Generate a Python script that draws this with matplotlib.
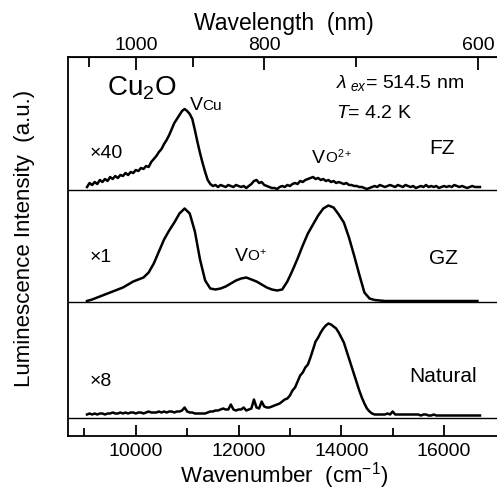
import numpy as np
import matplotlib
matplotlib.use("Agg")
import matplotlib.pyplot as plt

plt.rcParams['font.family'] = ['Liberation Sans', 'DejaVu Sans']
plt.rcParams['mathtext.fontset'] = 'custom'
plt.rcParams['mathtext.rm'] = 'Liberation Sans'
plt.rcParams['mathtext.it'] = 'Liberation Sans:italic'
plt.rcParams['mathtext.bf'] = 'Liberation Sans:bold'

# FZ sample (x40), wavenumber grid 9050..16700 step 50 cm-1
fz_wn = np.arange(9050, 16701, 50)
fz_int = [3, 7, 5, 8, 6, 10, 8, 11, 9, 13, 11, 14, 12, 15, 14, 17, 15, 18, 17, 20,
          19, 22, 21, 24, 23, 28, 31, 34, 38, 41, 46, 50, 55, 61, 67, 71, 75, 79, 81, 79,
          76, 71, 60, 48, 37, 27, 18, 10, 6, 4, 5, 3, 5, 4, 3, 5, 4, 3, 5, 4,
          3, 4, 2, 4, 6, 9, 10, 7, 8, 5, 4, 3, 2, 2, 1, 3, 4, 3, 5, 4,
          6, 7, 6, 9, 8, 10, 11, 12, 13, 11, 12, 10, 11, 9, 10, 8, 9, 7, 8, 7,
          6, 7, 5, 5, 4, 4, 3, 3, 2, 1, 2, 3, 4, 3, 5, 4, 3, 4, 5, 4,
          3, 5, 4, 3, 5, 4, 3, 4, 2, 3, 4, 3, 5, 3, 4, 3, 4, 2, 3, 4,
          3, 4, 3, 5, 4, 3, 4, 3, 2, 3, 4, 3, 3, 3]

# GZ sample (x1), step 100 cm-1
gz_wn = np.arange(9050, 16651, 100)
gz_int = [0.5, 2, 4, 6, 8, 10, 12, 14, 17, 20,
          22, 24, 29, 38, 50, 62, 71, 79, 88, 93,
          88, 70, 42, 21, 13, 12, 13, 15, 18, 21,
          23, 24, 22, 20, 17, 14, 12, 11, 12, 20,
          31, 43, 56, 68, 77, 86, 93, 96, 94, 87,
          79, 64, 46, 27, 9, 3, 1.5, 1, 0.5, 0.5,
          0.5, 0.5, 0.5, 0.5, 0.5, 0.5, 0.5, 0.5, 0.5, 0.5,
          0.5, 0.5, 0.5, 0.5, 0.5, 0.5, 0.5]

# Natural sample (x8), step 50 cm-1
nat_wn = np.arange(9050, 16701, 50)
nat_int = [3, 4, 3, 4, 3, 4, 4, 3, 4, 4, 5, 4, 4, 5, 4, 5, 4, 5, 5, 4,
           5, 5, 4, 5, 6, 5, 5, 5, 6, 5, 6, 5, 6, 6, 5, 6, 6, 7, 10, 6,
           5, 5, 4, 4, 4, 4, 4, 5, 6, 6, 7, 7, 8, 9, 8, 8, 13, 8, 7, 8,
           8, 10, 7, 8, 9, 18, 10, 9, 16, 11, 10, 10, 11, 12, 13, 14, 16, 18, 19, 22,
           27, 30, 36, 42, 45, 50, 53, 60, 68, 76, 80, 85, 89, 92, 94, 93, 91, 89, 85, 80,
           75, 67, 59, 51, 43, 35, 27, 20, 14, 9, 6, 4, 3, 3, 3, 3, 3, 4, 3, 6,
           3, 3, 3, 3, 3, 3, 3, 3, 3, 3, 2, 3, 3, 2, 2, 3, 2, 2, 2, 2,
           2, 2, 2, 2, 2, 2, 2, 2, 2, 2, 2, 2, 2, 2]

offsets = [246, 134.5, 18.5]   # FZ, GZ, Natural baselines

fig = plt.figure(figsize=(4.97, 4.94), dpi=100)
ax = fig.add_axes([68/497, 1-436/494, 432/497, 379/494])

for wn, inten, off in zip([fz_wn, gz_wn, nat_wn], [fz_int, gz_int, nat_int], offsets):
    ax.axhline(off, color='black', lw=1.0)
    ax.plot(wn, np.array(inten) + off, color='black', lw=1.8)

ax.set_xlim(8680, 17090)
ax.set_ylim(0, 379)
ax.set_yticks([])
ax.spines['right'].set_visible(False)
for s in ['left', 'top', 'bottom']:
    ax.spines[s].set_linewidth(1.3)

ax.set_xticks([10000, 12000, 14000, 16000])
ax.set_xticks([9000, 11000, 13000, 15000], minor=True)
ax.tick_params(axis='x', which='major', direction='in', length=8, width=1.3,
               labelsize=14, pad=5)
ax.tick_params(axis='x', which='minor', direction='in', length=6, width=1.3)
ax.set_xlabel(r'Wavenumber  (cm$^{-1}$)', fontsize=16, labelpad=0)

top = ax.secondary_xaxis('top', functions=(lambda x: 1e7 / x, lambda x: 1e7 / x))
top.set_xticks([1000, 800, 600])
top.set_xticks([1100, 900, 700], minor=True)
top.tick_params(which='major', direction='in', length=9, width=1.3, labelsize=14, pad=2)
top.tick_params(which='minor', direction='in', length=7, width=1.3)
top.set_xlabel('Wavelength  (nm)', fontsize=16.5, labelpad=5)

fig.text(25/497, 1-238/494, 'Luminescence Intensity  (a.u.)', rotation=90,
         ha='center', va='center', fontsize=16)


def vacancy(x, y, sub, sup):
    # big V, small on-baseline letter(s), optional superscript charge
    ax.annotate('V', (x, y), fontsize=14, ha='left', va='baseline')
    ax.annotate(sub + (r'$^{%s}$' % sup if sup else ''), (x, y),
                xytext=(9, 0), textcoords='offset points',
                fontsize=11, ha='left', va='baseline')


ax.text(10117, 348, r'Cu$_2$O', fontsize=20, ha='center', va='center')
vacancy(11049, 326, 'Cu', '')
ax.text(13903, 353, r'$\lambda_{\ ex}$= 514.5 nm', fontsize=14, ha='left', va='center')
ax.text(13903, 323, r'$T$= 4.2 K', fontsize=14, ha='left', va='center')
vacancy(13437, 273, 'O', '2+')
ax.text(15709, 288, 'FZ', fontsize=15, ha='left', va='center')
ax.text(9107, 283, '×40', fontsize=14, ha='left', va='center')

ax.text(9107, 178, '×1', fontsize=14, ha='left', va='center')
vacancy(11923, 175, 'O', '+')
ax.text(15709, 178, 'GZ', fontsize=15, ha='left', va='center')

ax.text(9107, 54, '×8', fontsize=14, ha='left', va='center')
ax.text(15320, 59, 'Natural', fontsize=15, ha='left', va='center')

fig.savefig('out.png', dpi=100)
